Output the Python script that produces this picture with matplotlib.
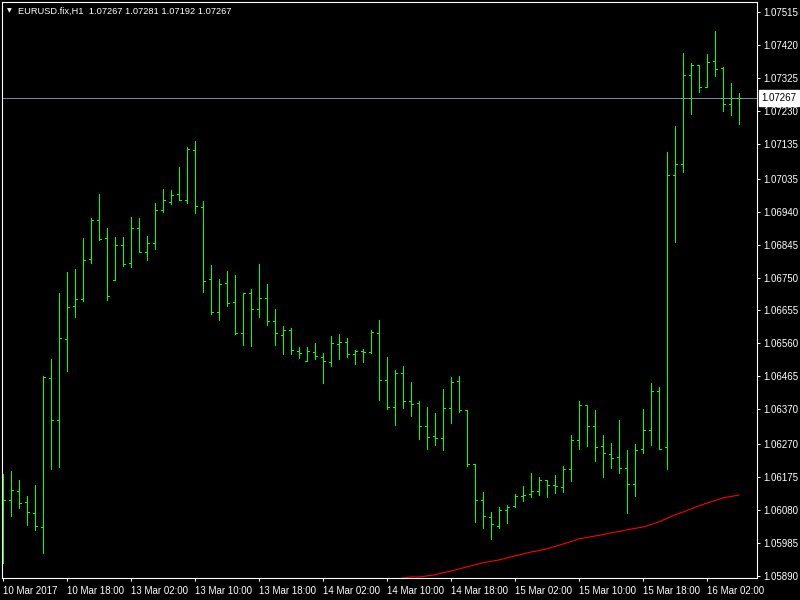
import numpy as np
import matplotlib.pyplot as plt
from matplotlib.collections import LineCollection
from matplotlib import transforms

# === DATA (EURUSD H1) ===
TITLE = "EURUSD.fix,H1  1.07267 1.07281 1.07192 1.07267"
BID = 1.07267

OPEN = [1.06123, 1.06109, 1.06135, 1.06103, 1.06072, 1.06031, 1.06461, 1.06339, 1.06573, 1.06668,
        1.06688, 1.06803, 1.06916, 1.06864, 1.06743, 1.06844, 1.06792, 1.06893, 1.06824, 1.06850,
        1.06945, 1.06968, 1.06991, 1.06973, 1.07117, 1.06953, 1.06746, 1.06651, 1.06734, 1.06680,
        1.06590, 1.06705, 1.06659, 1.06691, 1.06625, 1.06584, 1.06599, 1.06538, 1.06510, 1.06535,
        1.06521, 1.06507, 1.06559, 1.06564, 1.06530, 1.06538, 1.06535, 1.06590, 1.06455, 1.06377,
        1.06475, 1.06394, 1.06388, 1.06322, 1.06293, 1.06288, 1.06374, 1.06452, 1.06368, 1.06213,
        1.06109, 1.06060, 1.06034, 1.06080, 1.06092, 1.06121, 1.06126, 1.06135, 1.06167, 1.06152,
        1.06147, 1.06198, 1.06282, 1.06383, 1.06322, 1.06265, 1.06242, 1.06233, 1.06201, 1.06155,
        1.06256, 1.06311, 1.06423, 1.06262, 1.07045, 1.07077, 1.07334, 1.07362, 1.07299, 1.07374,
        1.07354, 1.07250, 1.07267]
HIGH = [1.06184, 1.06193, 1.06167, 1.06121, 1.06152, 1.06466, 1.06515, 1.06705, 1.06766, 1.06775,
        1.06864, 1.06922, 1.06991, 1.06893, 1.06867, 1.06867, 1.06924, 1.06922, 1.06870, 1.06965,
        1.07005, 1.07002, 1.07068, 1.07126, 1.07143, 1.06971, 1.06786, 1.06746, 1.06769, 1.06757,
        1.06705, 1.06717, 1.06789, 1.06731, 1.06659, 1.06610, 1.06605, 1.06550, 1.06550, 1.06561,
        1.06533, 1.06582, 1.06587, 1.06576, 1.06541, 1.06544, 1.06599, 1.06628, 1.06521, 1.06484,
        1.06495, 1.06449, 1.06394, 1.06377, 1.06360, 1.06429, 1.06463, 1.06466, 1.06368, 1.06213,
        1.06132, 1.06074, 1.06089, 1.06095, 1.06126, 1.06149, 1.06187, 1.06175, 1.06167, 1.06181,
        1.06207, 1.06296, 1.06394, 1.06383, 1.06368, 1.06296, 1.06273, 1.06339, 1.06253, 1.06270,
        1.06371, 1.06446, 1.06435, 1.07112, 1.07187, 1.07397, 1.07368, 1.07362, 1.07394, 1.07460,
        1.07357, 1.07311, 1.07281]
LOW = [1.05928, 1.06063, 1.06086, 1.06037, 1.06023, 1.05956, 1.06198, 1.06204, 1.06481, 1.06636,
       1.06682, 1.06792, 1.06858, 1.06685, 1.06743, 1.06783, 1.06780, 1.06824, 1.06801, 1.06832,
       1.06939, 1.06962, 1.06973, 1.06965, 1.06936, 1.06708, 1.06645, 1.06628, 1.06668, 1.06587,
       1.06556, 1.06553, 1.06636, 1.06613, 1.06556, 1.06530, 1.06530, 1.06518, 1.06510, 1.06515,
       1.06446, 1.06495, 1.06515, 1.06521, 1.06501, 1.06507, 1.06533, 1.06397, 1.06371, 1.06325,
       1.06374, 1.06351, 1.06285, 1.06256, 1.06268, 1.06253, 1.06331, 1.06362, 1.06207, 1.06046,
       1.06028, 1.05997, 1.06028, 1.06043, 1.06089, 1.06106, 1.06118, 1.06123, 1.06118, 1.06129,
       1.06132, 1.06164, 1.06256, 1.06265, 1.06221, 1.06175, 1.06201, 1.06187, 1.06072, 1.06121,
       1.06244, 1.06268, 1.06256, 1.06198, 1.06852, 1.07054, 1.07221, 1.07285, 1.07299, 1.07331,
       1.07230, 1.07218, 1.07192]
CLOSE = [1.06109, 1.06138, 1.06100, 1.06074, 1.06034, 1.06463, 1.06339, 1.06576, 1.06665, 1.06688,
         1.06801, 1.06916, 1.06861, 1.06697, 1.06844, 1.06789, 1.06893, 1.06824, 1.06850, 1.06945,
         1.06973, 1.06988, 1.06973, 1.07120, 1.06956, 1.06740, 1.06651, 1.06731, 1.06677, 1.06590,
         1.06705, 1.06659, 1.06691, 1.06625, 1.06590, 1.06599, 1.06541, 1.06533, 1.06538, 1.06524,
         1.06510, 1.06561, 1.06564, 1.06530, 1.06538, 1.06535, 1.06593, 1.06455, 1.06377, 1.06475,
         1.06394, 1.06386, 1.06322, 1.06291, 1.06288, 1.06374, 1.06449, 1.06368, 1.06213, 1.06109,
         1.06063, 1.06040, 1.06080, 1.06089, 1.06121, 1.06123, 1.06135, 1.06167, 1.06152, 1.06149,
         1.06198, 1.06282, 1.06383, 1.06322, 1.06262, 1.06244, 1.06230, 1.06201, 1.06155, 1.06253,
         1.06311, 1.06423, 1.06256, 1.07045, 1.07077, 1.07334, 1.07362, 1.07299, 1.07371, 1.07351,
         1.07250, 1.07267, 1.07267]

# moving average, visible from bar 49 on
MA_FIRST_BAR = 49
MA = [1.05879, 1.05884, 1.05887, 1.05887, 1.05890, 1.05893, 1.05899, 1.05904, 1.05910, 1.05916,
      1.05922, 1.05928, 1.05932, 1.05936, 1.05942, 1.05948, 1.05953, 1.05959, 1.05963, 1.05968,
      1.05975, 1.05982, 1.05989, 1.05997, 1.06001, 1.06005, 1.06009, 1.06014, 1.06018, 1.06023,
      1.06027, 1.06031, 1.06038, 1.06046, 1.06056, 1.06066, 1.06074, 1.06083, 1.06092, 1.06100,
      1.06107, 1.06115, 1.06119, 1.06123]

PRICE_TICKS = [1.07515, 1.07420, 1.07325, 1.07230, 1.07135, 1.07035, 1.06940, 1.06845, 1.06750,
               1.06655, 1.06560, 1.06465, 1.06370, 1.06270, 1.06175, 1.06080, 1.05985, 1.05890]
TIME_LABELS = ["10 Mar 2017", "10 Mar 18:00", "13 Mar 02:00", "13 Mar 10:00", "13 Mar 18:00",
               "14 Mar 02:00", "14 Mar 10:00", "14 Mar 18:00", "15 Mar 02:00", "15 Mar 10:00",
               "15 Mar 18:00", "16 Mar 02:00"]
TIME_STEP = 8  # bars between time labels

# === STYLE ===
BAR_COLOR = "#00ff00"
MA_COLOR = "#ff0000"
BID_COLOR = "#778899"
FONT_SIZE = 7

plt.rcParams['font.family'] = ['Liberation Sans', 'DejaVu Sans']


def bar_segments(o, h, l, c, tick=0.25):
    segs = []
    for i in range(len(o)):
        segs.append([(i, l[i]), (i, h[i])])
        segs.append([(i - tick, o[i]), (i, o[i])])
        segs.append([(i, c[i]), (i + tick, c[i])])
    return segs


def main():
    fig = plt.figure(figsize=(8, 6), dpi=100, facecolor="black")
    ax = fig.add_axes([2 / 800, 22 / 600, 755 / 800, 576 / 600], facecolor="black")

    ax.set_xlim(-0.125, 94.25)
    ax.set_ylim(1.05884, 1.07544)

    ax.axhline(BID, color=BID_COLOR, lw=0.72, zorder=1)

    lc = LineCollection(bar_segments(OPEN, HIGH, LOW, CLOSE), colors=BAR_COLOR,
                        linewidths=0.72, antialiased=False, zorder=2)
    ax.add_collection(lc)

    ma_x = np.arange(MA_FIRST_BAR, MA_FIRST_BAR + len(MA))
    ax.plot(ma_x, MA, color=MA_COLOR, lw=0.8, zorder=3)

    for s in ax.spines.values():
        s.set_color("white")
        s.set_linewidth(0.8)

    ax.yaxis.tick_right()
    ax.set_yticks(PRICE_TICKS)
    ax.set_yticklabels([f"{p:.5f}" for p in PRICE_TICKS])
    ax.set_xticks(np.arange(len(TIME_LABELS)) * TIME_STEP)
    ax.set_xticklabels(TIME_LABELS, ha="left")
    ax.tick_params(axis="both", colors="white", labelcolor="white", length=2.5, width=0.72,
                   labelsize=FONT_SIZE, pad=2)
    ax.tick_params(axis="x", pad=3)

    # bid price label on the scale
    trans = transforms.blended_transform_factory(ax.transAxes, ax.transData)
    ax.text(1.006, BID, f"{BID:.5f}", transform=trans, fontsize=FONT_SIZE, color="black",
            va="center", ha="left", clip_on=False, zorder=5,
            bbox=dict(boxstyle="square,pad=0.3", facecolor="white", edgecolor="white"))

    fig.text(7 / 800, 1 - 11 / 600, "\u25bc", fontsize=4.5, color="white", va="center",
             family=["DejaVu Sans"])
    fig.text(18 / 800, 1 - 11 / 600, TITLE, fontsize=6.7, color="white", va="center")

    fig.savefig("out.png", dpi=100, facecolor="black")


if __name__ == "__main__":
    main()
